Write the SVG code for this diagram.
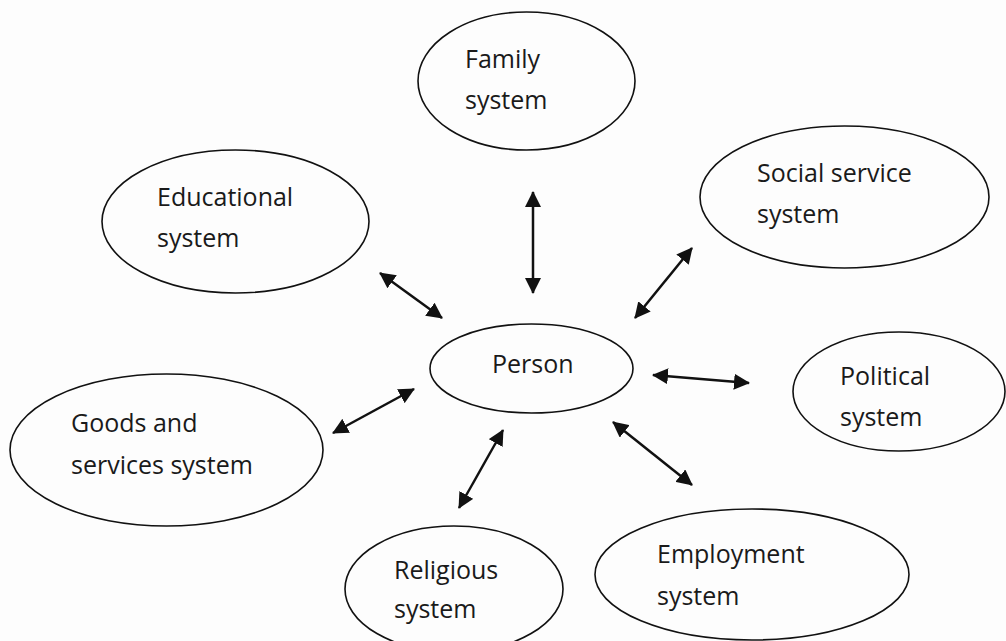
<svg xmlns="http://www.w3.org/2000/svg" width="1006" height="641" viewBox="0 0 1006 641">
  <defs>
    <marker id="head" viewBox="0 0 16 16" refX="15" refY="8" markerWidth="16" markerHeight="16" markerUnits="userSpaceOnUse" orient="auto-start-reverse">
      <path d="M0,0 L16,8 L0,16 Z" fill="#111"/>
    </marker>
    <style>
      .node ellipse { fill: none; stroke: #111; stroke-width: 1.6; }
      .node text { font-family: "Open Sans", "Liberation Sans", sans-serif; font-size: 25px; fill: #1a1a1a; }
      .link { stroke: #111; stroke-width: 2.5; fill: none; marker-start: url(#head); marker-end: url(#head); }
    </style>
  </defs>
  <rect width="1006" height="641" fill="#fdfdfd"/>

  <g id="family" class="node">
    <ellipse cx="526.5" cy="81" rx="108.5" ry="69"/>
    <text x="465" y="68">Family</text>
    <text x="465" y="109">system</text>
  </g>
  <g id="educational" class="node">
    <ellipse cx="235.5" cy="221.5" rx="133.5" ry="71.5"/>
    <text x="157" y="206">Educational</text>
    <text x="157" y="247">system</text>
  </g>
  <g id="social-service" class="node">
    <ellipse cx="844.5" cy="197" rx="144.5" ry="71"/>
    <text x="757" y="182">Social service</text>
    <text x="757" y="223">system</text>
  </g>
  <g id="person" class="node">
    <ellipse cx="531.5" cy="368.5" rx="101.5" ry="44.5"/>
    <text x="492" y="373">Person</text>
  </g>
  <g id="political" class="node">
    <ellipse cx="899" cy="391.5" rx="106" ry="59.5"/>
    <text x="840" y="385">Political</text>
    <text x="840" y="426">system</text>
  </g>
  <g id="goods-services" class="node">
    <ellipse cx="166.5" cy="450" rx="156.5" ry="76"/>
    <text x="71" y="432">Goods and</text>
    <text x="71" y="474">services system</text>
  </g>
  <g id="religious" class="node">
    <ellipse cx="454" cy="589" rx="109" ry="63"/>
    <text x="394" y="579">Religious</text>
    <text x="394" y="618">system</text>
  </g>
  <g id="employment" class="node">
    <ellipse cx="752" cy="574.5" rx="157" ry="65.5"/>
    <text x="657" y="563">Employment</text>
    <text x="657" y="605">system</text>
  </g>

  <g id="connectors">
    <line class="link" x1="533" y1="192" x2="533" y2="293"/>
    <line class="link" x1="692" y1="248" x2="635" y2="318"/>
    <line class="link" x1="380" y1="273" x2="442" y2="318"/>
    <line class="link" x1="333" y1="433" x2="414" y2="389"/>
    <line class="link" x1="503" y1="430" x2="459" y2="508"/>
    <line class="link" x1="653" y1="375" x2="749" y2="383"/>
    <line class="link" x1="613" y1="422" x2="692" y2="485"/>
  </g>
</svg>
